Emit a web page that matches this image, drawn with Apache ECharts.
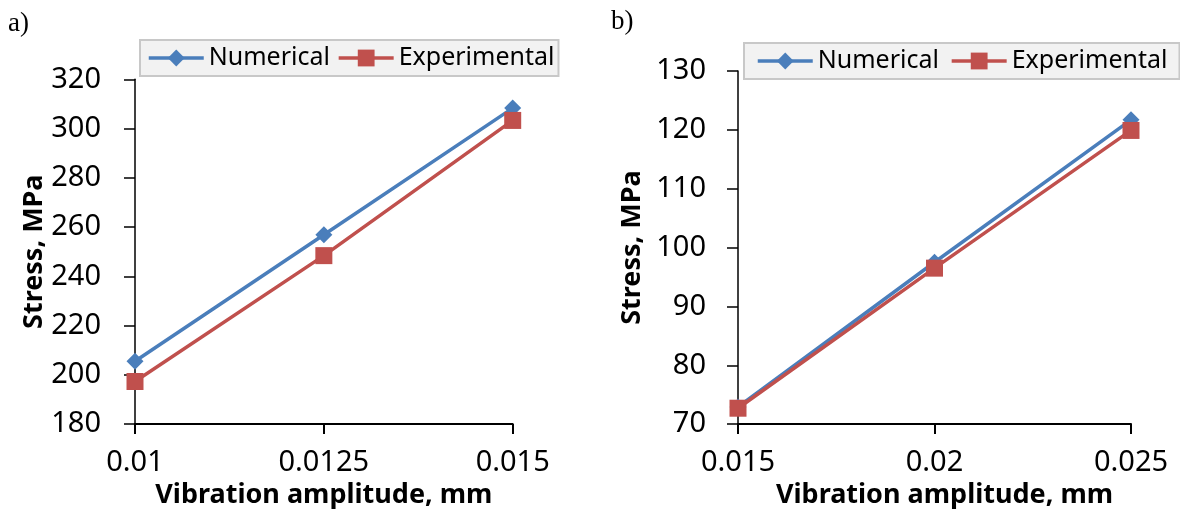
<!DOCTYPE html>
<html><head><meta charset="utf-8">
<script src="https://cdn.jsdelivr.net/npm/echarts@6/dist/echarts.min.js"></script>
<style>html,body{margin:0;padding:0;background:#fff}#c{width:1180px;height:514px}</style>
</head><body><div id="c"></div>
<script>
const seriesNames = ['Numerical', 'Experimental'];
const ampA = ['0.01', '0.0125', '0.015'];
const numericalA = [205.5, 256.9, 308.3];
const experimentalA = [197.3, 248.4, 303.3];
const ampB = ['0.015', '0.02', '0.025'];
const numericalB = [72.9, 97.5, 121.7];
const experimentalB = [72.7, 96.5, 119.9];
const xTitle = 'Vibration amplitude, mm';
const yTitle = 'Stress, MPa';
const panelLabels = ['a)', 'b)'];

const BLUE = '#4a7ebb', RED = '#c0504d';
const FONT = '"Noto Sans", sans-serif';
const chart = echarts.init(document.getElementById('c'), null, {renderer: 'canvas'});

function xAxis(idx, data, nameShift) {
  return {
    type: 'category', gridIndex: idx, data: data, boundaryGap: false,
    axisLine: {lineStyle: {color: '#000', width: 2}},
    axisTick: {length: 10, lineStyle: {color: '#000', width: 2}, alignWithLabel: true},
    axisLabel: {color: '#000', fontFamily: FONT, fontSize: 29, margin: 24},
    splitLine: {show: false},
    name: xTitle, nameLocation: 'middle', nameGap: 55,
    nameTextStyle: {color: '#000', fontFamily: FONT, fontWeight: 'bold', fontSize: 27, padding: [0, 0, 0, nameShift]}
  };
}
function yAxis(idx, min, max, interval, gap, margin) {
  return {
    type: 'value', gridIndex: idx, min: min, max: max, interval: interval,
    axisLine: {show: true, lineStyle: {color: '#000', width: 1.5}},
    axisTick: {show: true, length: 11, lineStyle: {color: '#000', width: 1.5}},
    axisLabel: {color: '#000', fontFamily: FONT, fontSize: 29, margin: margin},
    splitLine: {show: false},
    name: yTitle, nameLocation: 'middle', nameRotate: 90, nameGap: gap,
    nameTextStyle: {color: '#000', fontFamily: FONT, fontWeight: 'bold', fontSize: 27}
  };
}
function line(name, idx, data, color, symbol, size) {
  return {
    name: name, type: 'line', xAxisIndex: idx, yAxisIndex: idx, data: data,
    symbol: symbol, symbolSize: size, showSymbol: true,
    lineStyle: {color: color, width: 3.5}, itemStyle: {color: color},
    emphasis: {disabled: true}, animation: false, z: name === 'Experimental' ? 3 : 2
  };
}
function legend(left, top, padding, gap) {
  return {
    data: seriesNames.map(n => ({name: n})),
    left: left, top: top, orient: 'horizontal',
    padding: padding, itemGap: gap, itemWidth: 55, itemHeight: 21,
    lineStyle: {width: 3.5},
    backgroundColor: '#f2f2f2', borderColor: '#c8c8c8', borderWidth: 2, borderRadius: 0,
    textStyle: {color: '#000', fontFamily: FONT, fontSize: 25, lineHeight: 26},
    selectedMode: false
  };
}

chart.setOption({
  animation: false,
  grid: [
    {left: 135, right: 1180 - 512.7, top: 79.3, bottom: 514 - 427.3, containLabel: false},
    {left: 738, right: 1180 - 1131, top: 71, bottom: 514 - 427.3, containLabel: false}
  ],
  xAxis: [xAxis(0, ampA, 0), xAxis(1, ampB, 20)],
  yAxis: [yAxis(0, 180, 320, 20, 86, 34), yAxis(1, 70, 130, 10, 92, 32)],
  legend: [legend(140, 40, [5, 4, 5, 7], 7), legend(744, 43, [5, 12, 5, 12], 11)],
  series: [
    line('Numerical', 0, numericalA, BLUE, 'diamond', 17),
    line('Experimental', 0, experimentalA, RED, 'rect', 17),
    line('Numerical', 1, numericalB, BLUE, 'diamond', 17),
    line('Experimental', 1, experimentalB, RED, 'rect', 17)
  ],
  graphic: [
    {type: 'text', left: 8, top: 10, style: {text: panelLabels[0], fontSize: 27, fontFamily: '"Liberation Serif", serif', fill: '#000'}},
    {type: 'text', left: 611, top: 8, style: {text: panelLabels[1], fontSize: 27, fontFamily: '"Liberation Serif", serif', fill: '#000'}}
  ]
});
</script></body></html>
